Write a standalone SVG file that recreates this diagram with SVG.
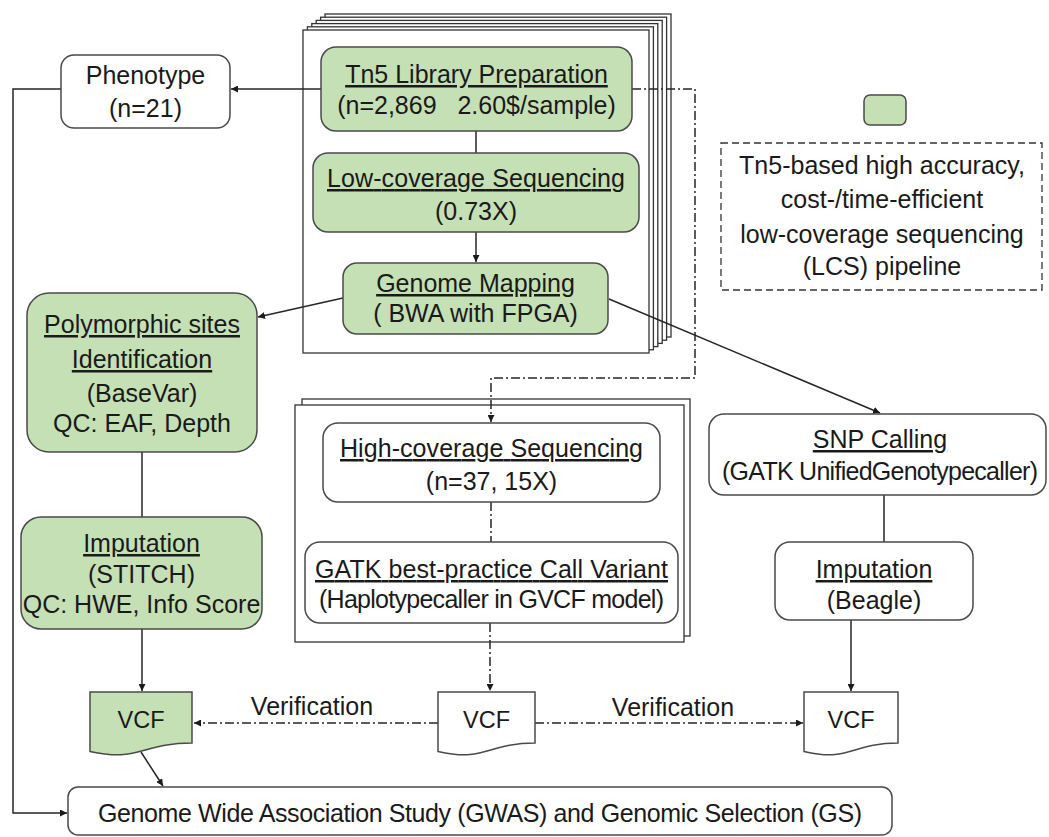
<svg xmlns="http://www.w3.org/2000/svg" width="1049" height="837" viewBox="0 0 1049 837">
<style>
.g{fill:#c5e0b4;stroke:#4a4a4a;stroke-width:1.5}
.w{fill:#ffffff;stroke:#4a4a4a;stroke-width:1.5}
.sh{fill:#ffffff;stroke:#333333;stroke-width:1.3}
.lg{fill:none;stroke:#333333;stroke-width:1.3;stroke-dasharray:7 4}
text{font-family:"Liberation Sans",Arial,sans-serif;font-size:25px;fill:#1a1a1a;text-anchor:middle}
.u{text-decoration:underline}
.v{font-size:23.5px}
.c{fill:none;stroke:#262626;stroke-width:1.5}
.dd{stroke-dasharray:9 3 2 3}
</style>
<defs>
<marker id="ah" viewBox="0 0 8 8" refX="8" refY="4" markerWidth="7" markerHeight="7" markerUnits="userSpaceOnUse" orient="auto">
<path d="M0,0 L8,4 L0,8 z" fill="#1a1a1a"/>
</marker>
</defs>
<rect width="1049" height="837" fill="#ffffff"/>

<g id="stack-lcs">
<rect class="sh" x="325" y="14" width="346" height="323"/>
<rect class="sh" x="320.6" y="17.2" width="346" height="323"/>
<rect class="sh" x="316.2" y="20.4" width="346" height="323"/>
<rect class="sh" x="311.8" y="23.6" width="346" height="323"/>
<rect class="sh" x="307.4" y="26.8" width="346" height="323"/>
<rect class="sh" x="303" y="30" width="346" height="323"/>
</g>
<g id="stack-hc">
<rect class="sh" x="302" y="399" width="388" height="237"/>
<rect class="sh" x="295" y="405" width="389" height="237"/>
</g>

<g id="connectors">
<path class="c" d="M321 89 H231" marker-end="url(#ah)"/>
<path class="c" d="M476 131 V153"/>
<path class="c" d="M476 232 V262" marker-end="url(#ah)"/>
<path class="c" d="M343 298 L258 317" marker-end="url(#ah)"/>
<path class="c" d="M609 299 L880 413" marker-end="url(#ah)"/>
<path class="c dd" d="M632 89 H695 V378 H491 V422" marker-end="url(#ah)"/>
<path class="c dd" d="M491 502 V542"/>
<path class="c dd" d="M490 623 V691" marker-end="url(#ah)"/>
<path class="c" d="M142 452 V517"/>
<path class="c" d="M142 629 V691" marker-end="url(#ah)"/>
<path class="c" d="M141 752 L163 786" marker-end="url(#ah)"/>
<path class="c" d="M61 89 H13 V813 H67" marker-end="url(#ah)"/>
<path class="c dd" d="M438 723 H194" marker-end="url(#ah)"/>
<path class="c dd" d="M535 723 H803" marker-end="url(#ah)"/>
<path class="c" d="M884 495 V542"/>
<path class="c" d="M851 620 V691" marker-end="url(#ah)"/>
<text x="312" y="715">Verification</text>
<text x="673" y="716">Verification</text>
</g>

<g id="tn5">
<rect class="g" x="321" y="47" width="311" height="84" rx="15"/>
<text class="u" x="476.5" y="83">Tn5 Library Preparation</text>
<text x="476.5" y="114" xml:space="preserve">(n=2,869   2.60$/sample)</text>
</g>
<g id="lowcov">
<rect class="g" x="313" y="153" width="326" height="79" rx="15"/>
<text class="u" x="476" y="187" textLength="298">Low-coverage Sequencing</text>
<text x="476" y="220">(0.73X)</text>
</g>
<g id="mapping">
<rect class="g" x="343" y="263" width="265" height="71" rx="14"/>
<text class="u" x="475.5" y="292">Genome Mapping</text>
<text x="475.5" y="322">( BWA with FPGA)</text>
</g>
<g id="phenotype">
<rect class="w" x="61" y="55" width="169" height="73" rx="13"/>
<text x="145.5" y="84">Phenotype</text>
<text x="145.5" y="117">(n=21)</text>
</g>
<g id="legend">
<rect class="g" x="864" y="95" width="42" height="30" rx="6"/>
<rect class="lg" x="721" y="143" width="321" height="147"/>
<text x="882" y="174">Tn5-based high accuracy,</text>
<text x="882" y="208">cost-/time-efficient</text>
<text x="882" y="243">low-coverage sequencing</text>
<text x="882" y="275">(LCS) pipeline</text>
</g>
<g id="polymorphic">
<rect class="g" x="27" y="293" width="230" height="159" rx="22"/>
<text class="u" x="142" y="333">Polymorphic sites</text>
<text class="u" x="142" y="368">Identification</text>
<text x="142" y="402">(BaseVar)</text>
<text x="142" y="432">QC: EAF, Depth</text>
</g>
<g id="imputation-stitch">
<rect class="g" x="21" y="517" width="241" height="112" rx="20"/>
<text class="u" x="141.5" y="552">Imputation</text>
<text x="141.5" y="583">(STITCH)</text>
<text x="141.5" y="613">QC: HWE, Info Score</text>
</g>
<g id="highcov">
<rect class="w" x="323" y="423" width="337" height="79" rx="15"/>
<text class="u" x="491.5" y="457" textLength="303">High-coverage Sequencing</text>
<text x="491.5" y="490">(n=37, 15X)</text>
</g>
<g id="gatk">
<rect class="w" x="305" y="542" width="373" height="81" rx="15"/>
<text class="u" x="491.5" y="578" textLength="353">GATK best-practice Call Variant</text>
<text x="491.5" y="608" textLength="345">(Haplotypecaller in GVCF model)</text>
</g>
<g id="snp">
<rect class="w" x="709" y="414" width="337" height="81" rx="15"/>
<text class="u" x="880" y="448">SNP Calling</text>
<text x="880" y="480" textLength="316">(GATK UnifiedGenotypecaller)</text>
</g>
<g id="imputation-beagle">
<rect class="w" x="775" y="542" width="198" height="78" rx="15"/>
<text class="u" x="874" y="578">Imputation</text>
<text x="874" y="609">(Beagle)</text>
</g>
<g id="vcf-lcs">
<path class="g" d="M90 692 H192 V743 C141 743 141 762.4 90 751.4 Z"/>
<text class="v" x="141" y="728">VCF</text>
</g>
<g id="vcf-hc">
<path class="w" d="M438 692 H535 V743 C486.5 743 486.5 762.4 438 751.4 Z"/>
<text class="v" x="486.5" y="728">VCF</text>
</g>
<g id="vcf-snp">
<path class="w" d="M804 692 H898 V743 C851 743 851 762.4 804 751.4 Z"/>
<text class="v" x="851" y="728">VCF</text>
</g>
<g id="gwas">
<rect class="w" x="68" y="787" width="824" height="48" rx="10"/>
<text x="480" y="822" textLength="764">Genome Wide Association Study (GWAS) and Genomic Selection (GS)</text>
</g>
</svg>
